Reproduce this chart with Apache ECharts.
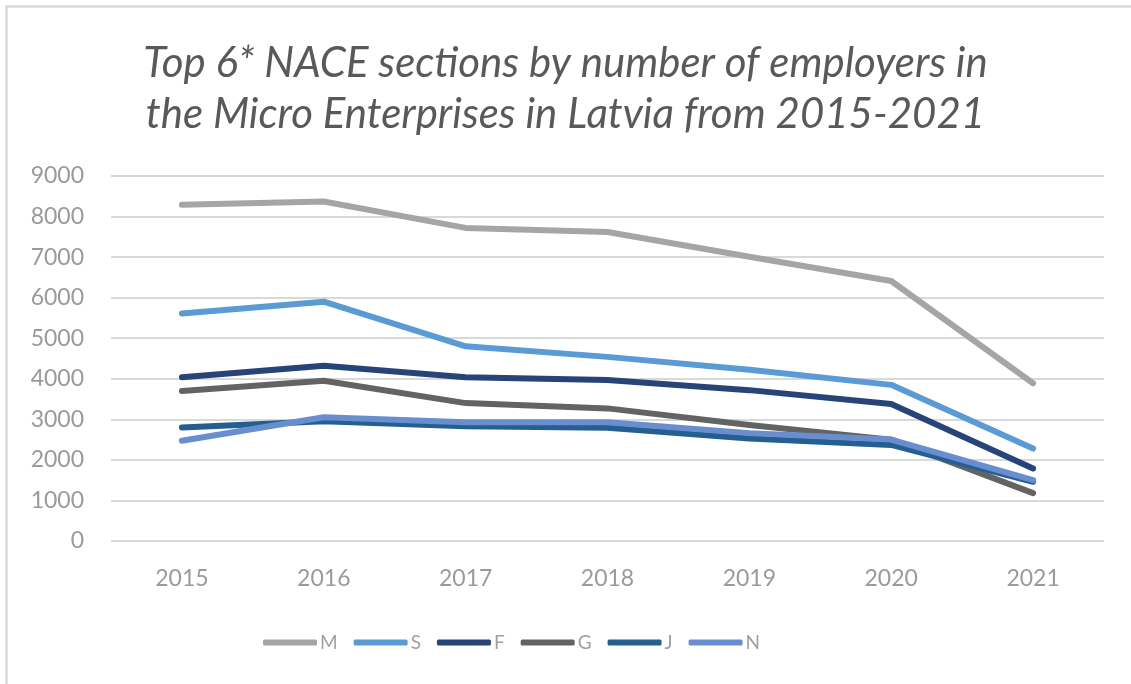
<!DOCTYPE html>
<html>
<head>
<meta charset="utf-8">
<script src="https://cdn.jsdelivr.net/npm/echarts@6/dist/echarts.min.js"></script>
<style>
  html, body { margin: 0; padding: 0; background: #fff; }
  #chart { width: 1131px; height: 684px; }
</style>
</head>
<body>
<div id="chart"></div>
<script>
// Years on the category axis
const years = ['2015', '2016', '2017', '2018', '2019', '2020', '2021'];

// Number of employers per NACE section
const sectionM = [8290, 8370, 7720, 7620, 7010, 6410, 3890];
const sectionS = [5610, 5900, 4800, 4540, 4220, 3850, 2280];
const sectionF = [4040, 4320, 4040, 3970, 3720, 3380, 1790];
const sectionG = [3700, 3950, 3400, 3270, 2860, 2500, 1180];
const sectionJ = [2800, 2950, 2830, 2790, 2530, 2370, 1460];
const sectionN = [2470, 3050, 2930, 2930, 2660, 2500, 1500];

const seriesDefs = [
  { name: 'M', data: sectionM, color: '#A5A5A5' },
  { name: 'S', data: sectionS, color: '#5B9BD5' },
  { name: 'F', data: sectionF, color: '#264478' },
  { name: 'G', data: sectionG, color: '#636363' },
  { name: 'J', data: sectionJ, color: '#255E91' },
  { name: 'N', data: sectionN, color: '#698ED0' }
];

const fontFamily = 'Lato, "Open Sans", sans-serif';
const chart = echarts.init(document.getElementById('chart'), null, { renderer: 'canvas' });

chart.setOption({
  backgroundColor: '#ffffff',
  animation: false,
  graphic: [{
    type: 'rect',
    shape: { x: 6.5, y: 6.5, width: 1200, height: 800 },
    style: { fill: 'none', stroke: '#D9D9D9', lineWidth: 2.5 },
    silent: true
  }],
  title: {
    text: 'Top 6* NACE sections by number of employers in\nthe Micro Enterprises in Latvia from 2015-2021',
    left: 'center',
    top: 33,
    textStyle: {
      fontFamily: fontFamily,
      fontStyle: 'italic',
      fontWeight: 'normal',
      fontSize: 42,
      lineHeight: 51,
      color: '#595959'
    }
  },
  legend: {
    left: 258,
    top: 628,
    icon: 'roundRect',
    itemWidth: 54,
    itemHeight: 6,
    itemGap: 16,
    textStyle: { fontFamily: fontFamily, fontSize: 19, color: '#A0A0A0', padding: [0, 0, 0, -2] },
    data: seriesDefs.map(s => s.name)
  },
  grid: { left: 111, right: 27, top: 176, bottom: 143, containLabel: false },
  xAxis: {
    type: 'category',
    data: years,
    boundaryGap: true,
    axisLine: { show: false },
    axisTick: { show: false },
    axisLabel: { margin: 26, fontFamily: fontFamily, fontSize: 23, color: '#9A9A9A' }
  },
  yAxis: {
    type: 'value',
    min: 0,
    max: 9000,
    interval: 1000,
    axisLine: { show: false },
    axisTick: { show: false },
    axisLabel: {
      margin: 27,
      fontFamily: fontFamily,
      fontSize: 23,
      color: '#9A9A9A',
      formatter: v => String(v)
    },
    splitLine: { lineStyle: { color: '#D9D9D9', width: 2 } }
  },
  series: seriesDefs.map(s => ({
    name: s.name,
    type: 'line',
    data: s.data,
    symbol: 'none',
    color: s.color,
    lineStyle: { width: 6, color: s.color, cap: 'round', join: 'round' },
    itemStyle: { color: s.color }
  }))
});
</script>
</body>
</html>
